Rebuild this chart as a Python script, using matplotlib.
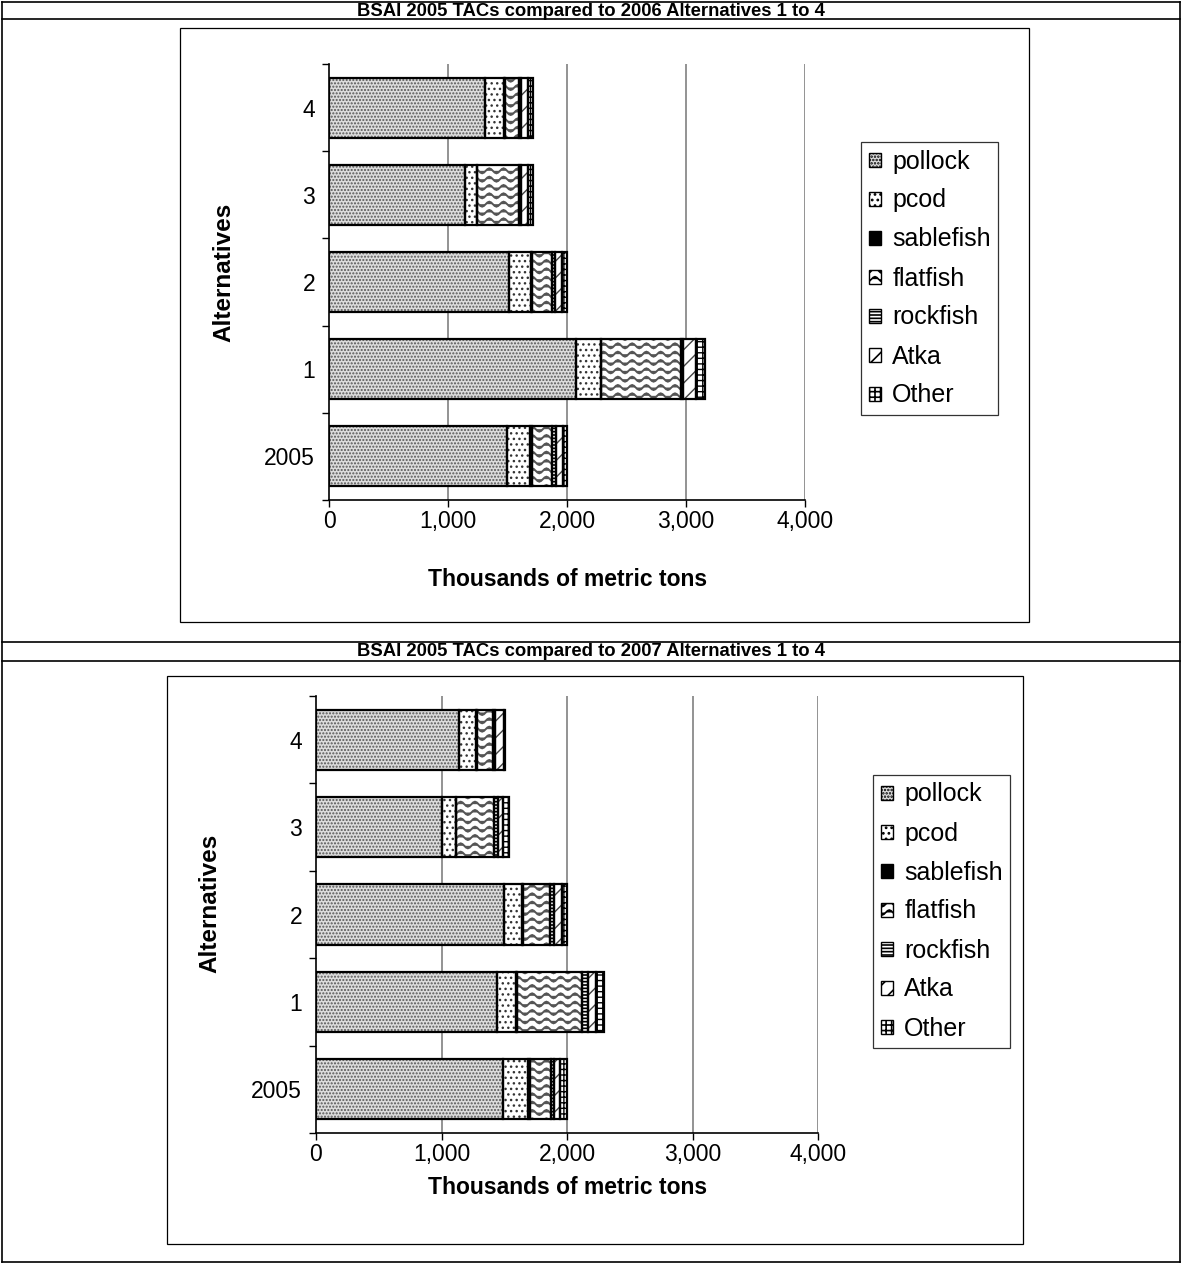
import warnings
warnings.filterwarnings("ignore")
import numpy as np
import matplotlib
matplotlib.use("Agg")
import matplotlib.pyplot as plt
import matplotlib.hatch as mhatch
from matplotlib.path import Path
from matplotlib.patches import Patch, Rectangle

# ---------------- data ----------------
categories = ["2005", "1", "2", "3", "4"]
species = ["pollock", "pcod", "sablefish", "flatfish", "rockfish", "Atka", "Other"]

# chart 1: 2005 TACs vs 2006 alternatives (thousands of t)
c1_pollock   = [1492, 2078, 1512, 1142, 1311]
c1_pcod      = [196, 204, 185, 98, 163]
c1_sablefish = [20, 6, 6, 6, 6]
c1_flatfish  = [168, 669, 173, 350, 117]
c1_rockfish  = [28, 19, 22, 17, 16]
c1_atka      = [64, 112, 62, 62, 62]
c1_other     = [32, 70, 40, 42, 42]

# chart 2: 2005 TACs vs 2007 alternatives
c2_pollock   = [1488, 1440, 1501, 1007, 1140]
c2_pcod      = [199, 154, 144, 106, 135]
c2_sablefish = [20, 6, 6, 6, 6]
c2_flatfish  = [167, 517, 214, 302, 132]
c2_rockfish  = [24, 48, 35, 27, 14]
c2_atka      = [48, 67, 58, 45, 74]
c2_other     = [54, 63, 42, 43, 5]

titles = ["BSAI 2005 TACs compared to 2006 Alternatives 1 to 4",
          "BSAI 2005 TACs compared to 2007 Alternatives 1 to 4"]
xticks = [0, 1000, 2000, 3000, 4000]
xticklabels = ["0", "1,000", "2,000", "3,000", "4,000"]
xlabel = "Thousands of metric tons"
ylabel = "Alternatives"

# ---------------- custom wave hatch ----------------
class WaveHatch(mhatch.HatchPatternBase):
    def __init__(self, hatch, density):
        self.num_lines = int(hatch.count('~') * density)
        self.periods = 7
        self.pts = self.periods * 8 + 1
        self.num_vertices = self.num_lines * self.pts if self.num_lines else 0

    def set_vertices_and_codes(self, vertices, codes):
        xs = np.linspace(0, 1, self.pts)
        amp = 0.025
        k = 0
        for i in range(self.num_lines):
            y0 = (i + 0.5) / self.num_lines
            ys = y0 + amp * np.sin(2 * np.pi * self.periods * xs)
            vertices[k:k + self.pts, 0] = xs
            vertices[k:k + self.pts, 1] = ys
            codes[k] = Path.MOVETO
            codes[k + 1:k + self.pts] = Path.LINETO
            k += self.pts

mhatch._hatch_types.append(WaveHatch)

plt.rcParams['font.family'] = ['Liberation Sans', 'DejaVu Sans']
plt.rcParams['hatch.linewidth'] = 1.2

styles = {
    "pollock":   dict(face="#dcdcdc", hatch=".....", hc="#555555", hlw=1.0),
    "pcod":      dict(face="white", hatch="...", hc="#333333", hlw=1.0),
    "sablefish": dict(face="black", hatch=None, hc="black", hlw=1.0),
    "flatfish":  dict(face="white", hatch="~~", hc="#555555", hlw=1.4),
    "rockfish":  dict(face="white", hatch="-----", hc="black", hlw=1.2),
    "Atka":      dict(face="white", hatch="//", hc="#444444", hlw=1.0),
    "Other":     dict(face="white", hatch="+++", hc="black", hlw=1.0),
}

W, H = 1182, 1264
fig = plt.figure(figsize=(W / 100, H / 100), dpi=100)

def px_axes(x0, y0, x1, y1, **kw):
    return fig.add_axes([x0 / W, 1 - y1 / H, (x1 - x0) / W, (y1 - y0) / H], **kw)

# table frame
frame = px_axes(0, 0, W, H)
frame.set_xlim(0, W); frame.set_ylim(H, 0); frame.axis("off")
lw_t = 1.2
for yy in [2, 19, 642, 661, 1262]:
    frame.plot([2, 1180], [yy, yy], color="black", lw=lw_t)
for xx in [2, 1180]:
    frame.plot([xx, xx], [2, 1262], color="black", lw=lw_t)
frame.text(591, 11, titles[0], ha="center", va="center", fontsize=13.3, fontweight="bold")
frame.text(591, 652, titles[1], ha="center", va="center", fontsize=13.3, fontweight="bold")
# chart frames
frame.add_patch(Rectangle((180, 28), 849, 594, fill=False, ec="black", lw=0.9))
frame.add_patch(Rectangle((167, 676), 856, 568, fill=False, ec="black", lw=0.9))

def set_hlw(container, lw):
    for p in container:
        if hasattr(p, "set_hatch_linewidth"):
            p.set_hatch_linewidth(lw)

def draw_chart(plot_box, data, xlab_pos, ylab_pos, leg_box):
    ax = px_axes(*plot_box)
    ypos = np.arange(len(categories))
    left = np.zeros(len(categories))
    handles = []
    for name, vals in zip(species, data):
        st = styles[name]
        vals = np.array(vals, dtype=float)
        with plt.rc_context({'hatch.linewidth': st["hlw"]}):
            bars = ax.barh(ypos, vals, left=left, height=0.69, color=st["face"],
                           hatch=st["hatch"], edgecolor=st["hc"], linewidth=0, zorder=2)
        set_hlw(bars, st["hlw"])
        ax.barh(ypos, vals, left=left, height=0.69, fill=False,
                edgecolor="black", linewidth=1.6, zorder=3)
        left += vals
        h = Patch(facecolor=st["face"], hatch=st["hatch"],
                  edgecolor="black", linewidth=1.0, label=name)
        handles.append(h)
    ax.set_xlim(0, 4000)
    ax.set_ylim(-0.5, len(categories) - 0.5)
    ax.set_xticks(xticks)
    ax.set_xticklabels(xticklabels, fontsize=16.5)
    ax.set_yticks(ypos)
    ax.set_yticklabels(categories, fontsize=16.5)
    ax.set_yticks(np.arange(-0.5, len(categories), 1.0), minor=True)
    ax.tick_params(axis="y", which="major", length=0, pad=10)
    ax.tick_params(axis="y", which="minor", length=5, width=1, direction="out")
    ax.tick_params(axis="x", which="major", length=5, width=1, direction="out", pad=2)
    for x in xticks[1:]:
        ax.axvline(x, color="#808080", lw=1.2, zorder=1)
    for s in ["top", "right"]:
        ax.spines[s].set_visible(False)
    for s in ["left", "bottom"]:
        ax.spines[s].set_linewidth(1.2)
    fig.text(xlab_pos[0] / W, 1 - xlab_pos[1] / H, xlabel, ha="center", va="center",
             fontsize=16.5, fontweight="bold")
    fig.text(ylab_pos[0] / W, 1 - ylab_pos[1] / H, ylabel, ha="center", va="center",
             fontsize=17.5, fontweight="bold", rotation=90)
    lx0, ly0, lx1, ly1 = leg_box
    leg = fig.legend(handles=handles, loc="upper left",
                     bbox_to_anchor=(lx0 / W, 1 - ly0 / H),
                     fontsize=18, frameon=True, fancybox=False,
                     handlelength=0.5, handleheight=0.5, handletextpad=0.45,
                     labelspacing=0.6, borderpad=0.3, borderaxespad=0.0)
    leg.get_frame().set_edgecolor("black")
    leg.get_frame().set_linewidth(0.9)
    return ax

data1 = [c1_pollock, c1_pcod, c1_sablefish, c1_flatfish, c1_rockfish, c1_atka, c1_other]
data2 = [c2_pollock, c2_pcod, c2_sablefish, c2_flatfish, c2_rockfish, c2_atka, c2_other]

draw_chart((329, 64, 805, 500), data1, (568, 580), (224, 272), (861, 142, 999, 421))
draw_chart((316, 696, 818, 1133), data2, (568, 1187), (210, 903), (873, 775, 1014, 1053))

fig.savefig("out.png", dpi=100, facecolor="white")
